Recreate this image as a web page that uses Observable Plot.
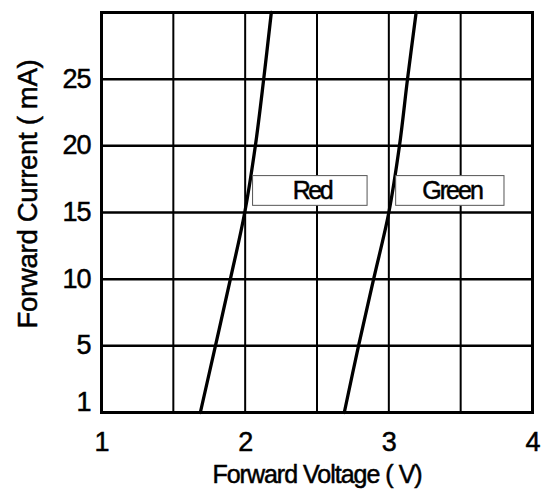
<!DOCTYPE html>
<html>
<head>
<meta charset="utf-8">
<script src="https://cdn.jsdelivr.net/npm/d3@7"></script>
<script src="https://cdn.jsdelivr.net/npm/@observablehq/plot@0.6"></script>
<style>
  html, body { margin: 0; padding: 0; background: #fff; }
</style>
</head>
<body>
<div id="chart"></div>
<script>
// Forward current (mA) sample points
const currents = [0, 5, 10, 15, 20, 25, 30];
// Forward voltage (V) read for each current
const redVoltage = [1.688, 1.793, 1.897, 1.997, 2.071, 2.129, 2.182];
const greenVoltage = [2.690, 2.789, 2.894, 3.000, 3.074, 3.130, 3.190];

// Axis ticks and grid
const xTicks = [1, 2, 3, 4];
const xGrid = [1.5, 2, 2.5, 3, 3.5];
const yTicks = [5, 10, 15, 20, 25];
const yGrid = [5, 10, 15, 20, 25];
const yBottomTick = [1];

// Labels (boxes in data coords)
const seriesNames = ["Red", "Green"];
const boxX1 = [2.055, 3.051];
const boxX2 = [2.852, 3.805];
const boxY1 = [15.5, 15.5];
const boxY2 = [17.73, 17.73];
const labelX = [2.465, 3.44];
const labelY = [16.6, 16.6];

const xTitle = "Forward Voltage ( V)";
const yTitle = "Forward Current ( mA)";

const redData = currents.map((c, i) => ({ v: redVoltage[i], i: c }));
const greenData = currents.map((c, i) => ({ v: greenVoltage[i], i: c }));
const boxes = seriesNames.map((n, k) => ({ name: n, x1: boxX1[k], x2: boxX2[k], y1: boxY1[k], y2: boxY2[k], lx: labelX[k], ly: labelY[k] }));

const chart = Plot.plot({
  width: 545,
  height: 494,
  marginLeft: 101,
  marginRight: 13,
  marginTop: 12,
  marginBottom: 82,
  style: { fontFamily: "'Liberation Sans', Arial, sans-serif", background: "#fff", color: "#000", overflow: "visible" },
  x: { domain: [1, 4] },
  y: { domain: [0, 30] },
  marks: [
    Plot.ruleX(xGrid, { stroke: "#000", strokeWidth: 2 }),
    Plot.ruleY(yGrid, { stroke: "#000", strokeWidth: 2.5 }),
    Plot.line(redData, { x: "v", y: "i", stroke: "#000", strokeWidth: 3.3, curve: "catmull-rom" }),
    Plot.line(greenData, { x: "v", y: "i", stroke: "#000", strokeWidth: 3.3, curve: "catmull-rom" }),
    Plot.rect(boxes, { x1: "x1", x2: "x2", y1: "y1", y2: "y2", fill: "#fff", stroke: "#555", strokeWidth: 1 }),
    Plot.text(boxes, { x: "lx", y: "ly", text: "name", fontSize: 25, fill: "#000" }),
    Plot.frame({ stroke: "#000", strokeWidth: 3 }),
    Plot.axisX(xTicks, { tickSize: 0, tickPadding: 19, fontSize: 27, label: null, tickFormat: d => String(d) }),
    Plot.axisY(yTicks, { tickSize: 0, tickPadding: 11, fontSize: 27, label: null, tickFormat: d => String(d) }),
    Plot.axisY(yBottomTick, { tickSize: 0, tickPadding: 11, fontSize: 27, label: null, dy: 3, tickFormat: d => String(d) }),
    Plot.text([xTitle], { frameAnchor: "bottom", lineAnchor: "top", dy: 53, fontSize: 25, fill: "#000" }),
    Plot.text([yTitle], { frameAnchor: "left", textAnchor: "middle", lineAnchor: "middle", rotate: -90, dx: -73, dy: -18.5, fontSize: 27.5, fill: "#000" })
  ]
});

// tighten letter spacing and thicken strokes like the reference typeface
const spacing = { "Red": -2.5, "Green": -2, [xTitle]: -1, [yTitle]: -0.3 };
d3.select(chart).selectAll("text").each(function () {
  const t = d3.select(this);
  const s = spacing[t.text()];
  t.style("letter-spacing", (s !== undefined ? s : -1) + "px")
   .attr("stroke", "#000").attr("stroke-width", 0.5);
});
document.getElementById("chart").appendChild(chart);
</script>
</body>
</html>
